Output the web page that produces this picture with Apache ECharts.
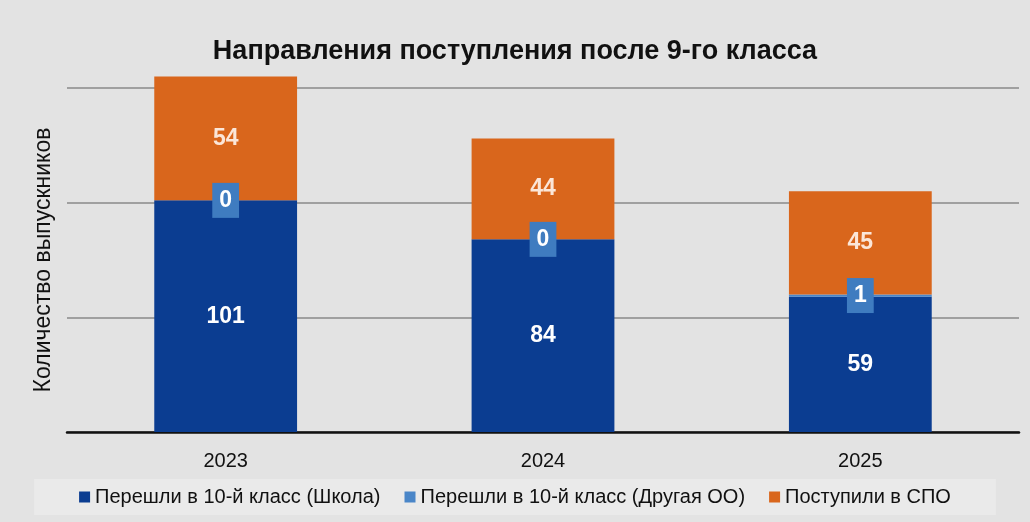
<!DOCTYPE html>
<html>
<head>
<meta charset="utf-8">
<script src="https://cdn.jsdelivr.net/npm/echarts@6/dist/echarts.min.js"></script>
<style>
html,body{margin:0;padding:0;background:#e3e3e3;}
#chart{width:1030px;height:522px;}
</style>
</head>
<body>
<div id="chart"></div>
<script>
const years = ['2023', '2024', '2025'];
const schoolValues = [101, 84, 59];
const otherValues = [0, 0, 1];
const spoValues = [54, 44, 45];
const seriesNames = ['Перешли в 10-й класс (Школа)', 'Перешли в 10-й класс (Другая ОО)', 'Поступили в СПО'];
const titleText = 'Направления поступления после 9-го класса';
const yAxisName = 'Количество выпускников';

const font = 'Liberation Sans, Arial, sans-serif';
const chart = echarts.init(document.getElementById('chart'));
chart.setOption({
  backgroundColor: '#e3e3e3',
  animation: false,
  title: {
    text: titleText,
    left: 'center',
    top: 33,
    textStyle: {fontFamily: font, fontSize: 27, fontWeight: 'bold', color: '#111'}
  },
  legend: {
    bottom: 7,
    left: 'center',
    itemWidth: 11,
    itemHeight: 11,
    itemGap: 24,
    icon: 'rect',
    padding: [8, 45],
    backgroundColor: '#eaeaea',
    textStyle: {fontFamily: font, fontSize: 20, color: '#111'},
    data: seriesNames
  },
  grid: {left: 67, right: 11, top: 88, bottom: 90},
  xAxis: {
    type: 'category',
    data: years,
    axisTick: {show: false},
    axisLine: {lineStyle: {color: '#111', width: 2.5}},
    axisLabel: {fontFamily: font, fontSize: 20, color: '#111', margin: 19}
  },
  yAxis: {
    type: 'value',
    min: 0,
    max: 150,
    interval: 50,
    name: yAxisName,
    nameLocation: 'middle',
    nameGap: 12,
    nameRotate: 90,
    nameTextStyle: {fontFamily: font, fontSize: 23, color: '#111'},
    axisLabel: {show: false},
    axisTick: {show: false},
    axisLine: {show: false},
    splitLine: {lineStyle: {color: '#8a8a8a', width: 1.5}}
  },
  series: [
    {
      name: seriesNames[0],
      type: 'bar',
      stack: 'total',
      clip: false,
      barWidth: '45%',
      data: schoolValues,
      itemStyle: {color: '#0b3d91'},
      label: {show: true, position: 'inside', color: '#fff', fontFamily: font, fontSize: 23, fontWeight: 'bold'}
    },
    {
      name: seriesNames[1],
      type: 'bar',
      stack: 'total',
      clip: false,
      data: otherValues,
      itemStyle: {color: '#4a86c8'},
      label: {
        show: true, position: 'inside', color: '#fff', fontFamily: font, fontSize: 23, fontWeight: 'bold',
        backgroundColor: '#3f7cc0', padding: [7, 7, 5, 7]
      }
    },
    {
      name: seriesNames[2],
      type: 'bar',
      stack: 'total',
      clip: false,
      data: spoValues,
      itemStyle: {color: '#d9661c'},
      label: {show: true, position: 'inside', color: '#fbe6d8', fontFamily: font, fontSize: 23, fontWeight: 'bold'}
    }
  ]
});
</script>
</body>
</html>
